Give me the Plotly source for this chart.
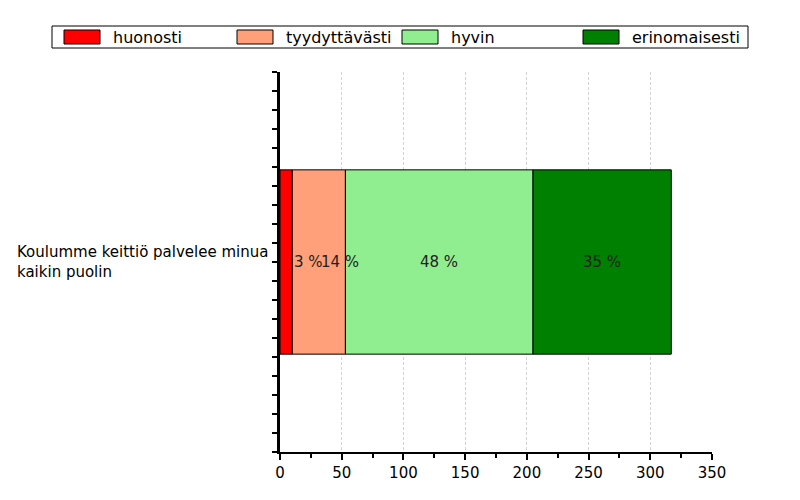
import plotly.graph_objects as go

category = "Koulumme keittiö palvelee minua<br>kaikin puolin"
series_names = ["huonosti", "tyydyttävästi", "hyvin", "erinomaisesti"]
series_values = [10, 43, 152, 112]
series_colors = ["#ff0000", "#ffa07a", "#90ee90", "#008000"]
x_ticks = [0, 50, 100, 150, 200, 250, 300, 350]

FONT = "DejaVu Sans"
total = sum(series_values)

fig = go.Figure()
base = 0
annotations = []
prev_small = False
for name, v, c in zip(series_names, series_values, series_colors):
    fig.add_trace(go.Bar(
        y=[0], x=[v], base=[base], orientation="h", name=name,
        marker=dict(color=c, line=dict(color="black", width=1)),
        width=0.97, showlegend=False, hoverinfo="x+name",
    ))
    pct = round(v / total * 100)
    small = v / total < 0.08
    if small:
        ax, anchor = base + v, "left"
    elif prev_small:
        ax, anchor = base + v / 2, "left"
    else:
        ax, anchor = base + v / 2, "center"
    annotations.append(dict(
        x=ax, y=0, xref="x", yref="y",
        text=f"{pct} %", showarrow=False,
        xanchor=anchor, yanchor="middle",
        font=dict(family=FONT, size=15, color="#222"),
    ))
    prev_small = small
    base += v

# category label, left aligned block ending at the axis
annotations.append(dict(
    x=0, y=0, xref="paper", yref="y", text=category, showarrow=False,
    xanchor="right", yanchor="middle", align="left", xshift=-10,
    font=dict(family=FONT, size=15, color="black"),
))

# custom legend
shapes = []
leg_x = [64, 237, 402, 583]
W, H = 800, 500
shapes.append(dict(type="rect", xref="paper", yref="paper",
                   x0=(52 - 280) / 432, x1=(748 - 280) / 432,
                   y0=(452 - 48) / 380, y1=(452 - 26) / 380,
                   line=dict(color="black", width=1), fillcolor="white"))
for lx, name, c in zip(leg_x, series_names, series_colors):
    shapes.append(dict(type="rect", xref="paper", yref="paper",
                       x0=(lx - 280) / 432, x1=(lx + 36 - 280) / 432,
                       y0=(452 - 44) / 380, y1=(452 - 30) / 380,
                       line=dict(color="black", width=1), fillcolor=c))
    annotations.append(dict(
        x=(lx + 47 - 280) / 432, y=(452 - 37) / 380, xref="paper", yref="paper",
        text=name, showarrow=False, xanchor="left", yanchor="middle",
        font=dict(family=FONT, size=16, color="black"),
    ))

fig.update_layout(
    width=W, height=H,
    margin=dict(l=280, r=88, t=72, b=48),
    plot_bgcolor="white", paper_bgcolor="white",
    barmode="overlay",
    showlegend=False,
    annotations=annotations, shapes=shapes,
    xaxis=dict(
        range=[0, 350], tickvals=x_ticks, ticktext=[str(t) for t in x_ticks],
        showgrid=True, gridcolor="#d3d3d3", griddash="3px,2px", gridwidth=1,
        showline=True, linecolor="black", linewidth=2,
        ticks="outside", ticklen=6, tickwidth=2, tickcolor="black",
        minor=dict(dtick=25, ticks="outside", ticklen=4, tickwidth=2, tickcolor="black", showgrid=False),
        tickfont=dict(family=FONT, size=15, color="black"),
        zeroline=False, fixedrange=True,
    ),
    yaxis=dict(
        range=[-1, 1], tickvals=[], showticklabels=False,
        showgrid=False, zeroline=False,
        showline=True, linecolor="black", linewidth=3,
        minor=dict(dtick=0.1, tick0=0, ticks="outside", ticklen=5, tickwidth=2, tickcolor="black", showgrid=False),
        fixedrange=True,
    ),
)

fig.write_html("out.html")
